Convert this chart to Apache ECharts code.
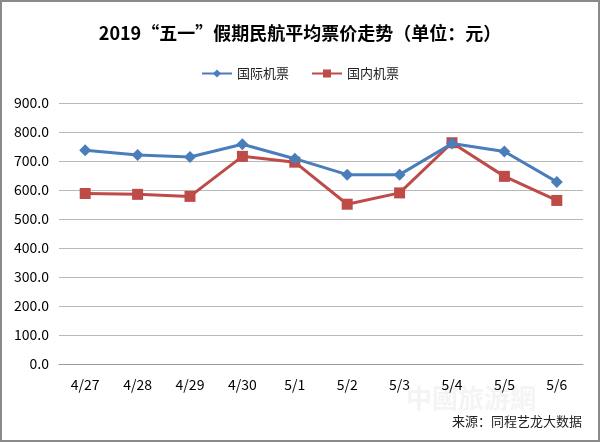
<!DOCTYPE html>
<html><head><meta charset="utf-8">
<script src="https://cdn.jsdelivr.net/npm/echarts@6/dist/echarts.min.js"></script>
<style>html,body{margin:0;padding:0;background:#fff}#c{width:600px;height:442px;box-sizing:border-box;border:2px solid #8a8a8a}</style>
</head><body><div id="c"></div>
<script>
const categories = ['4/27','4/28','4/29','4/30','5/1','5/2','5/3','5/4','5/5','5/6'];
const intlFares = [737, 721, 714, 758, 708, 653, 653, 760, 733, 628];
const domesticFares = [588, 585, 578, 716, 696, 551, 590, 763, 647, 564];
const seriesNames = ['国际机票', '国内机票'];

const chart = echarts.init(document.getElementById('c'));
const font = '"Microsoft YaHei","Noto Sans CJK SC",sans-serif';
chart.setOption({
  animation: false,
  title: {
    text: '2019“五一”假期民航平均票价走势（单位：元）',
    left: 'center', top: 17,
    textStyle: {fontFamily: font, fontSize: 18, fontWeight: 'bold', color: '#000'}
  },
  legend: {
    top: 60, left: 'center', itemGap: 22, itemWidth: 30, itemHeight: 10,
    textStyle: {fontFamily: font, fontSize: 13, color: '#222'},
    data: seriesNames
  },
  grid: {left: 57, right: 15, top: 101, bottom: 76},
  xAxis: {
    type: 'category', data: categories, boundaryGap: true,
    axisLine: {lineStyle: {color: '#9a9a9a', width: 1}},
    axisTick: {show: false},
    axisLabel: {fontFamily: font, fontSize: 14, color: '#000', margin: 14}
  },
  yAxis: {
    type: 'value', min: 0, max: 900, interval: 100,
    axisLine: {show: false}, axisTick: {show: false},
    splitLine: {lineStyle: {color: '#b8b8b8', width: 1}},
    axisLabel: {fontFamily: font, fontSize: 14, color: '#000', margin: 10,
      formatter: v => v.toFixed(1)}
  },
  series: [
    {name: seriesNames[0], type: 'line', data: intlFares, symbol: 'diamond', symbolSize: 12,
     itemStyle: {color: '#4A7EBB'}, lineStyle: {width: 3, color: '#4A7EBB'}, z: 3},
    {name: seriesNames[1], type: 'line', data: domesticFares, symbol: 'rect', symbolSize: 11,
     itemStyle: {color: '#BE4B48'}, lineStyle: {width: 3, color: '#BE4B48'}, z: 2}
  ],
  graphic: [
    {type: 'text', right: 62, top: 383, style: {text: '中國旅游網', fontSize: 26, fontFamily: font, fill: 'rgba(210,210,210,0.25)', fontWeight: 'bold'}},
    {type: 'text', right: 16, top: 413, style: {text: '来源：同程艺龙大数据', fontSize: 13, fontFamily: font, fill: '#222'}}
  ]
});
</script></body></html>
